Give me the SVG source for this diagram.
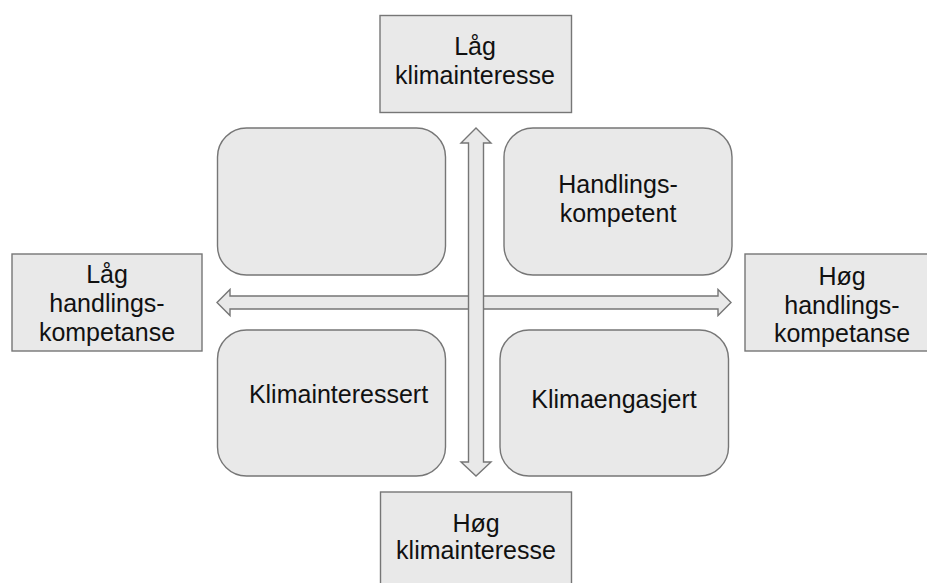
<svg xmlns="http://www.w3.org/2000/svg" width="927" height="583" viewBox="0 0 927 583">
<style>
.box{fill:#e9e9e9;stroke:#767676;stroke-width:1.4}
.arrow{fill:#e9e9e9;stroke:#767676;stroke-width:1.4;stroke-linejoin:miter}
text{font-family:"Liberation Sans",Arial,sans-serif;font-size:25px;fill:#111;text-anchor:middle}
</style>
<rect width="927" height="583" fill="#ffffff"/>
<g id="connectors">
<path class="arrow" d="M217,302.5 L230,289.5 L230,296 L718,296 L718,289.5 L731,302.5 L718,315.5 L718,309 L230,309 L230,315.5 Z"/>
<path class="arrow" d="M476,128 L491,143 L483.5,143 L483.5,462 L491,462 L476,476 L461,462 L468.5,462 L468.5,143 L461,143 Z"/>
</g>
<g id="top-label">
<rect class="box" x="380" y="15.5" width="191.5" height="97"/>
<text x="475" y="55">Låg</text>
<text x="475" y="83.5">klimainteresse</text>
</g>
<g id="bottom-label">
<rect class="box" x="380.5" y="492" width="191" height="100"/>
<text x="476" y="531.5">Høg</text>
<text x="476" y="558.5">klimainteresse</text>
</g>
<g id="left-label">
<rect class="box" x="12" y="254" width="190" height="97"/>
<text x="107" y="283">Låg</text>
<text x="107" y="312">handlings-</text>
<text x="107" y="341">kompetanse</text>
</g>
<g id="right-label">
<rect class="box" x="745" y="254" width="195" height="97"/>
<text x="842" y="285">Høg</text>
<text x="842" y="313.5">handlings-</text>
<text x="842" y="342">kompetanse</text>
</g>
<g id="quadrant-top-left">
<rect class="box" x="217.5" y="128" width="228" height="147" rx="29" ry="29"/>
</g>
<g id="quadrant-top-right">
<rect class="box" x="504" y="128" width="228" height="147" rx="29" ry="29"/>
<text x="618" y="193">Handlings-</text>
<text x="618" y="222">kompetent</text>
</g>
<g id="quadrant-bottom-left">
<rect class="box" x="217.5" y="330" width="228" height="146" rx="29" ry="29"/>
<text x="338.5" y="403">Klimainteressert</text>
</g>
<g id="quadrant-bottom-right">
<rect class="box" x="500" y="330" width="228.5" height="146" rx="29" ry="29"/>
<text x="614" y="407.5">Klimaengasjert</text>
</g>
</svg>
